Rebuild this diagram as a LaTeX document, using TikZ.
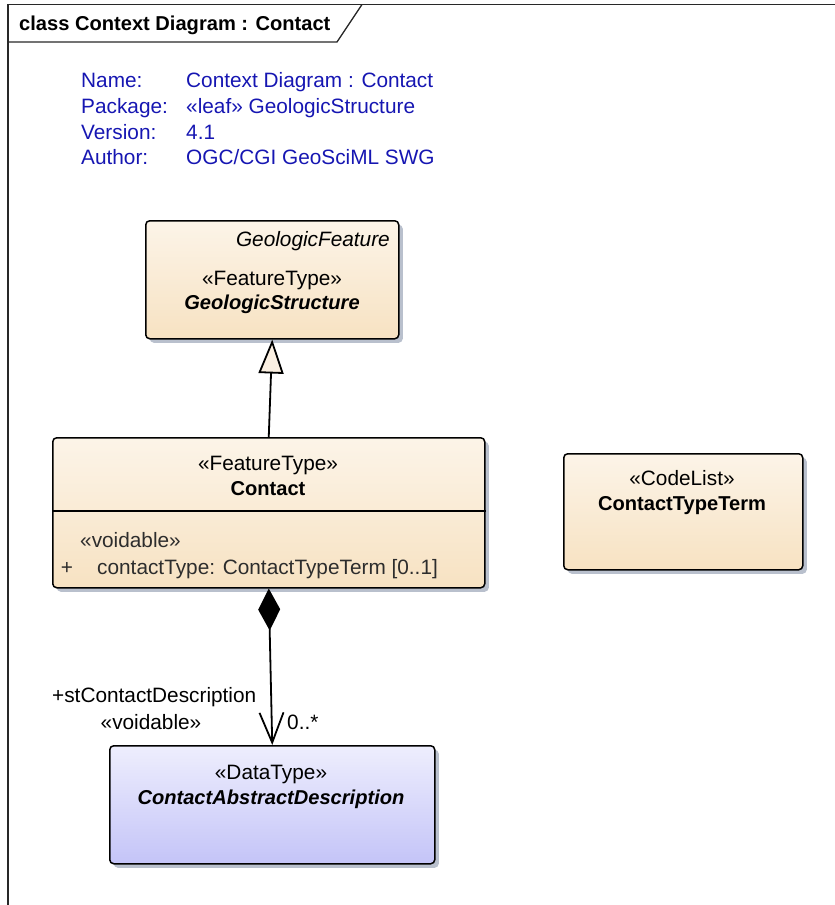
\documentclass[tikz,border=0pt]{standalone}
\usepackage{fontspec}
\setmainfont{Liberation Sans}
\usetikzlibrary{arrows.meta,shadows}
\definecolor{hdrblue}{RGB}{22,22,178}
\definecolor{ftop}{RGB}{252,244,232}
\definecolor{fbot}{RGB}{247,226,194}
\definecolor{btop}{RGB}{238,238,253}
\definecolor{bbot}{RGB}{196,196,248}
\definecolor{shadowc}{RGB}{185,192,205}
\definecolor{attrc}{RGB}{45,45,45}
\definecolor{framec}{RGB}{40,40,40}
\definecolor{tricol}{RGB}{251,240,226}
\begin{document}
\begin{tikzpicture}[x=1pt,y=-1pt,
  txt/.style={inner sep=0pt, font=\fontsize{20.8}{24}\selectfont},
  txtb/.style={inner sep=0pt, font=\bfseries\fontsize{20.1}{24}\selectfont},
  txtbi/.style={inner sep=0pt, font=\bfseries\itshape\fontsize{20.1}{24}\selectfont},
  txti/.style={inner sep=0pt, font=\itshape\fontsize{20.8}{24}\selectfont},
  hdr/.style={txt, text=hdrblue, anchor=base west},
  cls/.style={draw=black, line width=1.5pt, rounded corners=4pt, anchor=north west, inner sep=0pt,
    drop shadow={shadow xshift=4pt, shadow yshift=-4pt, fill=shadowc, opacity=1}},
  orangebox/.style={cls, top color=ftop, bottom color=fbot},
  bluebox/.style={cls, top color=btop, bottom color=bbot},
  conn/.style={draw=black, line width=1.8pt}]
\useasboundingbox (0,0) rectangle (835,905);
% frame
\draw[framec, line width=1.3pt] (8,905) -- (8,4.5) -- (835,4.5);
\draw[framec, line width=1.3pt] (8,42) -- (337,42) -- (362,4.5);
\node[txtb, anchor=base west] (title) at (19,30) {class Context Diagram : Contact};
% header
\node[hdr] (hn) at (81,87) {Name:};
\node[hdr] (hp) at (81,113) {Package:};
\node[hdr] (hv) at (81,139) {Version:};
\node[hdr] (ha) at (81,164) {Author:};
\node[hdr] (vn) at (186,87) {Context Diagram : Contact};
\node[hdr] (vp) at (186,113) {«leaf» GeologicStructure};
\node[hdr] (vv) at (186,139) {4.1};
\node[hdr] (va) at (186,164) {OGC/CGI GeoSciML SWG};
% classes
\node[orangebox, minimum width=253pt, minimum height=118pt] (gs) at (145,220) {};
\node[orangebox, minimum width=432pt, minimum height=150pt] (contact) at (52,437) {};
\node[orangebox, minimum width=239pt, minimum height=116pt] (ctt) at (563,453) {};
\node[bluebox, minimum width=325pt, minimum height=118pt] (cad) at (109,745) {};
\draw[black, line width=1.3pt] ([yshift=-74pt]contact.north west) -- ([yshift=-74pt]contact.north east);
% texts in classes
\node[txti, anchor=base east] (gsp) at (390,246) {GeologicFeature};
\node[txt, anchor=base] (gss) at (272,285) {«FeatureType»};
\node[txtbi, anchor=base] (gsn) at (272,309) {GeologicStructure};
\node[txt, anchor=base] (cs) at (268,470) {«FeatureType»};
\node[txtb, anchor=base] (cn) at (268,495) {Contact};
\node[txt, anchor=base west, text=attrc] (cvo) at (80,547) {«voidable»};
\node[txt, anchor=base, text=attrc] (cplus) at (67,574) {+};
\node[txt, anchor=base west, text=attrc] (catt) at (97,574) {contactType: ContactTypeTerm [0..1]};
\node[txt, anchor=base] (ctts) at (682,485) {«CodeList»};
\node[txtb, anchor=base] (cttn) at (682,510) {ContactTypeTerm};
\node[txt, anchor=base] (cads) at (271,779) {«DataType»};
\node[txtbi, anchor=base] (cadn) at (271,804) {ContactAbstractDescription};
% connectors
\draw[conn, -{Triangle[length=34pt,width=25pt,fill=tricol]}] (contact.north) -- (gs.south);
\draw[conn, {Diamond[length=42pt,width=22pt]}-{Straight Barb[length=30pt,width=24pt]}] (contact.south) -- (cad.north);
% labels
\node[txt, anchor=base west] (rl) at (52,702) {+stContactDescription};
\node[txt, anchor=base] (rv) at (151,729) {«voidable»};
\node[txt, anchor=base west] (rm) at (287,729) {0..*};
\end{tikzpicture}
\end{document}
